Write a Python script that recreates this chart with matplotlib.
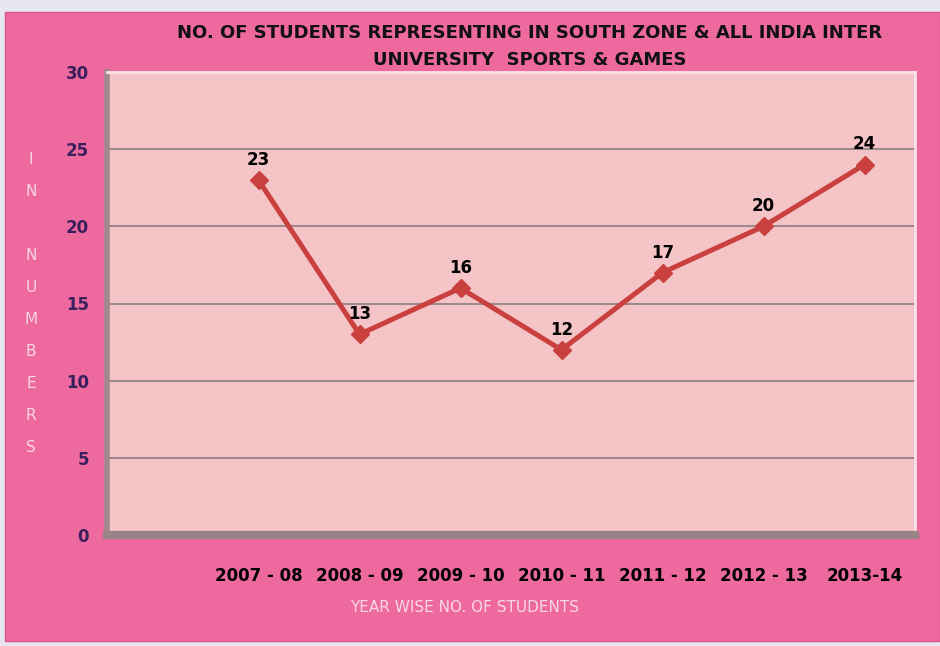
import matplotlib.pyplot as plt
from matplotlib.patches import Rectangle

# data
years = ['2007 - 08', '2008 - 09', '2009 - 10', '2010 - 11', '2011 - 12', '2012 - 13', '2013-14']
students = [23, 13, 16, 12, 17, 20, 24]
y_ticks = [0, 5, 10, 15, 20, 25, 30]

PINK = '#EE6A9E'
PLOT_BG = '#F5C4C6'
LINE = '#C9403F'
TICK = '#3A1F5E'
GRID = '#9C8A8E'

fig = plt.figure(figsize=(9.4, 6.46), dpi=100)
fig.patch.set_facecolor('#E7E5EE')

# pink panel behind the chart
fig.patches.append(Rectangle((5 / 940, 1 - 641 / 646), 935 / 940, 629 / 646,
                             transform=fig.transFigure, facecolor=PINK,
                             edgecolor='#D9558A', lw=1, zorder=-10))

ax = fig.add_axes([107 / 940, 1 - 535 / 646, 808 / 940, 463 / 646])
ax.set_facecolor(PLOT_BG)

x = list(range(len(years)))
ax.plot(x, students, color=LINE, lw=3.6, marker='D', markersize=9,
        markerfacecolor=LINE, markeredgecolor=LINE, zorder=3)
for xi, v in zip(x, students):
    ax.annotate(str(v), (xi, v), xytext=(0, 8), textcoords='offset points',
                ha='center', va='bottom', fontsize=12, fontweight='bold',
                color='black', zorder=4)

ax.set_xlim(-1.5, 6.5)
ax.set_ylim(0, 30)
ax.set_yticks(y_ticks)
ax.set_yticklabels([str(t) for t in y_ticks], fontsize=12, fontweight='bold', color=TICK)
ax.set_xticks(x)
ax.set_xticklabels(years, fontsize=12, fontweight='bold', color='black')
ax.tick_params(axis='y', length=0, pad=13)
ax.tick_params(axis='x', length=0, pad=23)
ax.yaxis.grid(True, color=GRID, lw=1.5)
ax.set_axisbelow(True)

# bevelled frame look
for side in ['top', 'right']:
    ax.spines[side].set_color('#FBE3E6')
    ax.spines[side].set_linewidth(2)
ax.spines['left'].set_color('#A08A8E')
ax.spines['left'].set_linewidth(4)
ax.spines['bottom'].set_color('#9A8387')
ax.spines['bottom'].set_linewidth(6)

fig.text(530 / 940, 1 - 33 / 646, 'NO. OF STUDENTS REPRESENTING IN SOUTH ZONE & ALL INDIA INTER',
         ha='center', va='center', fontsize=13, fontweight='bold', color='#111111')
fig.text(530 / 940, 1 - 60 / 646, 'UNIVERSITY  SPORTS & GAMES',
         ha='center', va='center', fontsize=13, fontweight='bold', color='#111111')

# vertical axis label, one letter per line
label_chars = ['I', 'N', '', 'N', 'U', 'M', 'B', 'E', 'R', 'S']
for i, ch in enumerate(label_chars):
    fig.text(31 / 940, 1 - (160 + i * 32) / 646, ch, ha='center', va='center',
             fontsize=11, color='#FAD6E4')

fig.text(465 / 940, 1 - 608 / 646, 'YEAR WISE NO. OF STUDENTS', ha='center', va='center',
         fontsize=11, color='#FAD6E4')

fig.savefig('out.png', dpi=100, facecolor=fig.get_facecolor())
